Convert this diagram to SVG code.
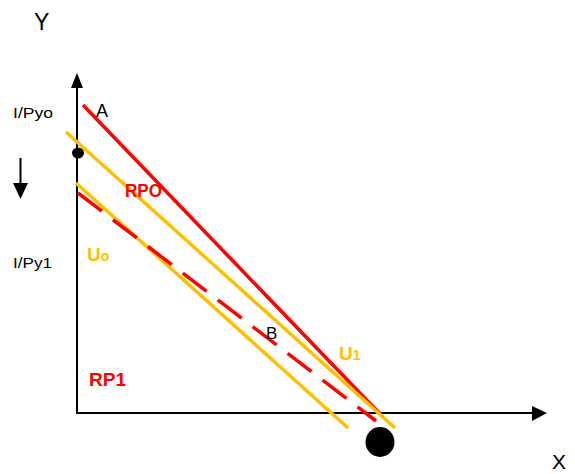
<svg xmlns="http://www.w3.org/2000/svg" width="575" height="474" viewBox="0 0 575 474">
<style>
.ax{stroke:#000;stroke-width:2;fill:none}
.red{stroke:#FF0000;stroke-width:3.5;fill:none}
.yel{stroke:#FFC000;stroke-width:3.5;fill:none}
.lbl{font-family:"Liberation Sans",Arial,sans-serif;fill:#000}
.rb{font-family:"Liberation Sans",Arial,sans-serif;font-weight:bold;fill:#FF0000}
.yb{font-family:"Liberation Sans",Arial,sans-serif;font-weight:bold;fill:#FFC000}
</style>
<rect width="575" height="474" fill="#fff"/>
<g id="axes">
<line class="ax" x1="77" y1="86" x2="77" y2="413"/>
<polygon points="77,73 71,88 83,88" fill="#000"/>
<line class="ax" x1="76" y1="413" x2="534" y2="413"/>
<polygon points="547,413 532,406 532,421" fill="#000"/>
<text class="lbl" x="34" y="30" font-size="23">Y</text>
<text class="lbl" x="552" y="469" font-size="21">X</text>
</g>
<g id="connectors">
<line class="red" x1="83" y1="105" x2="381" y2="415"/>
<line class="yel" x1="66" y1="132" x2="395" y2="428"/>
<line class="yel" x1="76" y1="183" x2="348" y2="428"/>
<line class="red" x1="78" y1="193" x2="376" y2="421" stroke-dasharray="30 14"/>
</g>
<g id="shift-arrow">
<line class="ax" x1="20.5" y1="158" x2="20.5" y2="185"/>
<polygon points="13,183 28,183 20.5,199" fill="#000"/>
</g>
<g id="dot-y">
<ellipse cx="78" cy="153" rx="6" ry="5.5" fill="#000"/>
</g>
<g id="dot-x">
<ellipse cx="380" cy="442" rx="14.5" ry="15" fill="#000"/>
</g>
<g id="labels">
<text class="lbl" x="13" y="118" font-size="14.5" textLength="40" lengthAdjust="spacingAndGlyphs">I/Pyo</text>
<text class="lbl" x="13" y="268" font-size="14.5" textLength="39" lengthAdjust="spacingAndGlyphs">I/Py1</text>
<text class="lbl" x="96" y="117" font-size="18">A</text>
<text class="lbl" x="266" y="339" font-size="17">B</text>
<text class="rb" x="125" y="197" font-size="18" textLength="37" lengthAdjust="spacingAndGlyphs">RPO</text>
<text class="rb" x="89" y="386" font-size="19" textLength="37" lengthAdjust="spacingAndGlyphs">RP1</text>
<text class="yb" x="87" y="261" font-size="19">U<tspan font-size="14">o</tspan></text>
<text class="yb" x="339" y="360" font-size="19">U<tspan font-size="14">1</tspan></text>
</g>
</svg>
